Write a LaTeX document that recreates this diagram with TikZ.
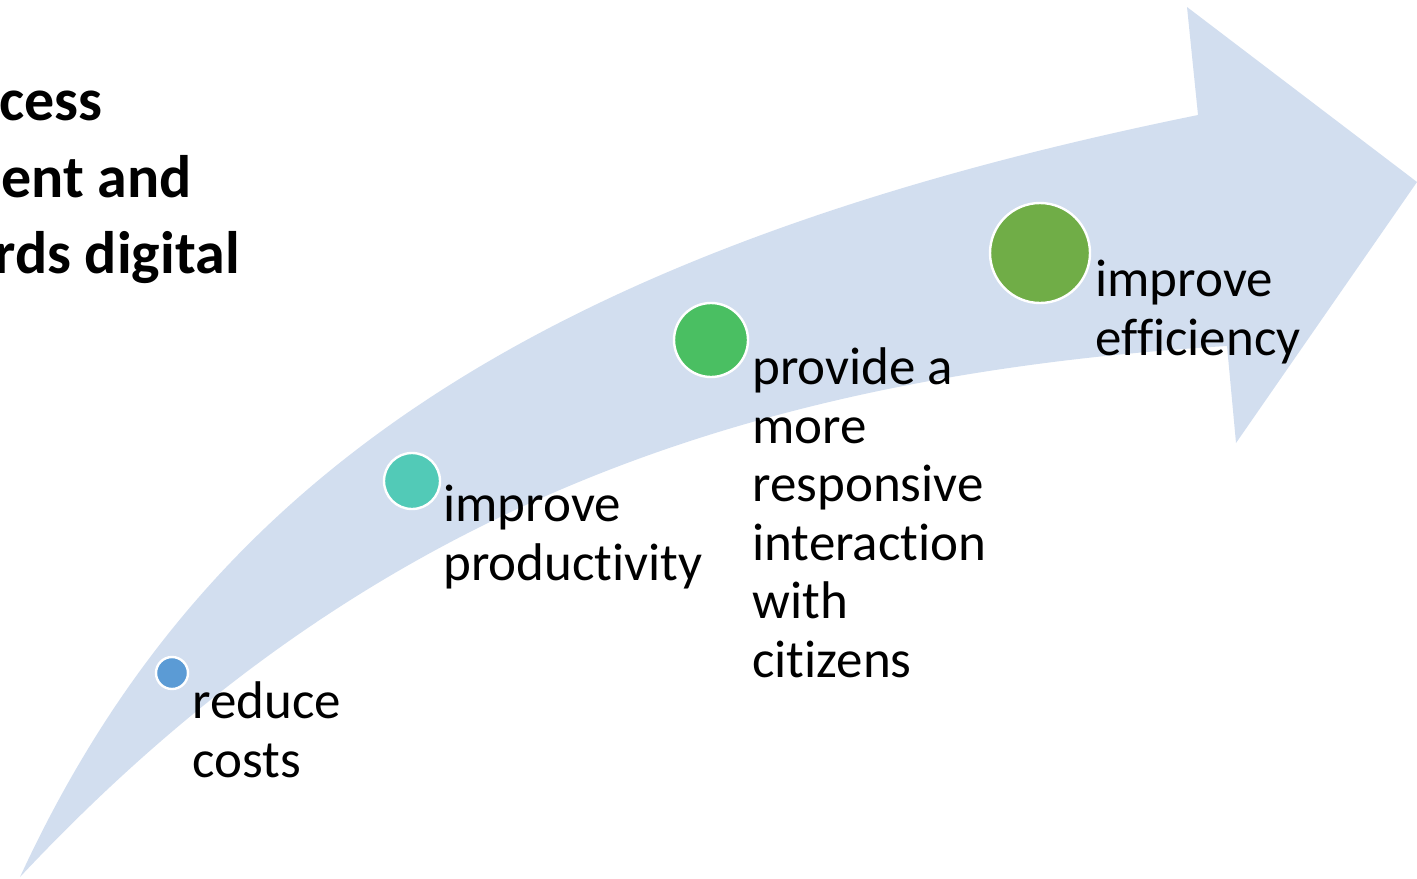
\documentclass[tikz,border=0pt]{standalone}
\usepackage{fontspec}
\setmainfont[Ligatures=NoCommon]{Carlito}

\definecolor{arrowfill}{RGB}{210,222,239}
\definecolor{dotblue}{RGB}{91,155,213}
\definecolor{dotteal}{RGB}{82,202,183}
\definecolor{dotgreen}{RGB}{74,191,98}
\definecolor{dotolive}{RGB}{112,173,71}

\tikzset{
  dot/.style={circle, draw=white, line width=1.2pt, inner sep=0pt, minimum size=#1},
  goaltext/.style={anchor=base west, align=left, inner sep=0pt,
    font=\fontsize{26.5}{29.25}\selectfont},
  titletext/.style={anchor=base east, inner sep=0pt,
    font=\bfseries\fontsize{30}{38.5}\selectfont}
}

\begin{document}
\begin{tikzpicture}[x=0.5pt, y=-0.5pt]
  \useasboundingbox (0,0) rectangle (1417,878);
  \clip (0,0) rectangle (1417,878);

  % curved arrow
  \fill[arrowfill] (20,877) .. controls (196,496) and (514,254) .. (1198,115)
    -- (1187,7) -- (1417,182) -- (1236,443) -- (1227,346)
    .. controls (701,378) and (339,537) .. (20,877) -- cycle;

  % title, cut off at the left
  \node[titletext] (title1) at (103,120) {cess};
  \node[titletext] (title2) at (192,197) {ent and};
  \node[titletext] (title3) at (240,273) {rds digital};

  % steps along the arrow (text anchored at its last line)
  \node[dot=16pt, fill=dotblue] (costs) at (172,673) {};
  \node[goaltext] (costs text) at (192,777) {reduce\\costs};

  \node[dot=28pt, fill=dotteal] (productivity) at (412,481) {};
  \node[goaltext] (productivity text) at (443,580) {improve\\productivity};

  \node[dot=37pt, fill=dotgreen] (citizens) at (711,340) {};
  \node[goaltext] (citizens text) at (752,677)
    {provide a\\more\\responsive\\interaction\\with\\citizens};

  \node[dot=50pt, fill=dotolive] (efficiency) at (1040,253) {};
  \node[goaltext] (efficiency text) at (1095,355) {improve\\efficiency};
\end{tikzpicture}
\end{document}
